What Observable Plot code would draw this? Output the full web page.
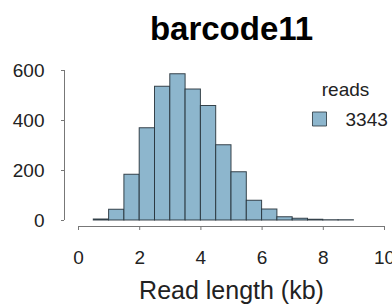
<!DOCTYPE html>
<html>
<head>
<meta charset="utf-8">
<script src="https://cdn.jsdelivr.net/npm/d3@7"></script>
<script src="https://cdn.jsdelivr.net/npm/@observablehq/plot@0.6"></script>
<style>
  html, body { margin: 0; padding: 0; background: #fff; }
</style>
</head>
<body>
<div id="chart"></div>
<script>
const title = "barcode11";
const xLabel = "Read length (kb)";
const legendTitle = "reads";
const readCount = "3343";
const binWidth = 0.5;
const binStart = [0.5, 1.0, 1.5, 2.0, 2.5, 3.0, 3.5, 4.0, 4.5, 5.0, 5.5, 6.0, 6.5, 7.0, 7.5, 8.0, 8.5];
const counts   = [4,   43,  183, 369, 535, 585, 524, 458, 301, 193, 79,  44,  13,  7,   3,   1,   1];
const xTicks = [0, 2, 4, 6, 8, 10];
const yTicks = [0, 200, 400, 600];

const fillColor = "#8DB6CD";
const edgeColor = "#26323a";
const axisColor = "#777";

const bins = binStart.map((x0, i) => ({x0, x1: x0 + binWidth, count: counts[i]}));

const chart = Plot.plot({
  width: 392,
  height: 305,
  marginLeft: 78,
  marginRight: 8,
  marginTop: 70,
  marginBottom: 85,
  x: {domain: [xTicks[0], xTicks[xTicks.length - 1]]},
  y: {domain: [yTicks[0], yTicks[yTicks.length - 1]]},
  style: {fontFamily: "'Liberation Sans', Arial, sans-serif", fontSize: "19px", color: "#222", background: "#fff", overflow: "visible"},
  marks: [
    Plot.rectY(bins, {x1: "x0", x2: "x1", y: "count", fill: fillColor, stroke: edgeColor, strokeWidth: 1, strokeOpacity: 0.9}),
    Plot.ruleY([yTicks[0]], {x1: xTicks[0], x2: xTicks[xTicks.length - 1], dy: 6, stroke: axisColor}),
    Plot.axisX(xTicks, {tickSize: 4, tickPadding: 20, dy: 6, label: null, stroke: axisColor, fill: "#222", fontSize: 19}),
    Plot.ruleX([xTicks[0]], {y1: yTicks[0], y2: yTicks[yTicks.length - 1], dx: -14, stroke: axisColor}),
    Plot.axisY(yTicks, {tickSize: 3, tickPadding: 17, dx: -14, label: null, stroke: axisColor, fill: "#222", fontSize: 19}),
    Plot.text([title], {text: d => d, frameAnchor: "top", dy: -31, lineAnchor: "bottom", fontSize: 33, fontWeight: "bold", fill: "#000"}),
    Plot.text([xLabel], {text: d => d, frameAnchor: "bottom", dy: 78, lineAnchor: "bottom", fontSize: 25, fill: "#222"}),
    Plot.text([legendTitle], {text: d => d, frameAnchor: "top-right", dx: -39, dy: 25, textAnchor: "middle", lineAnchor: "bottom", fontSize: 19, fill: "#222"}),
    Plot.dot([readCount], {frameAnchor: "top-right", dx: -65, dy: 48.5, symbol: "square", r: 7.9, fill: fillColor, stroke: edgeColor, strokeWidth: 0.8}),
    Plot.text([readCount], {text: d => d, frameAnchor: "top-right", dx: -39, dy: 55, textAnchor: "start", lineAnchor: "bottom", fontSize: 19, fill: "#222"})
  ]
});
document.getElementById("chart").appendChild(chart);
</script>
</body>
</html>
